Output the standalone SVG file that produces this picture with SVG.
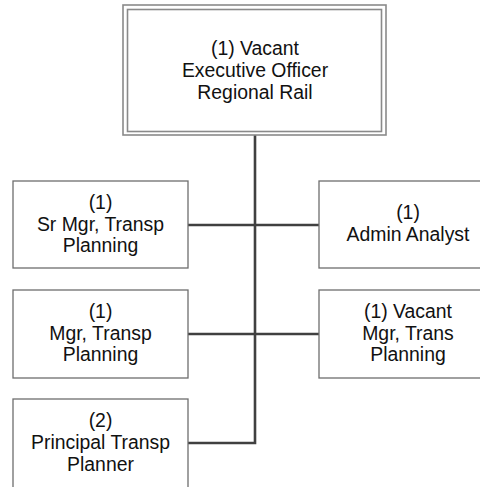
<svg xmlns="http://www.w3.org/2000/svg" width="480" height="487" viewBox="0 0 480 487">
<style>
.box{fill:#fff;stroke:#6e6e6e;stroke-width:1.3}
.dbl{fill:none;stroke:#8a8a8a;stroke-width:1.6}
.t{font-family:"Liberation Sans",Arial,sans-serif;font-size:19.4px;fill:#111;text-anchor:middle}
.c{fill:none;stroke:#404040;stroke-width:2.6}
</style>
<rect width="480" height="487" fill="#fff"/>
<g id="connectors">
<path class="c" d="M255 135V443H188"/>
<path class="c" d="M188 225H319"/>
<path class="c" d="M188 334H319"/>
</g>
<g id="n0">
<rect class="dbl" x="123" y="5" width="263" height="130"/>
<rect class="dbl" x="127.5" y="9.5" width="254" height="122"/>
<text class="t" x="255" y="55">(1) Vacant</text>
<text class="t" x="255" y="77">Executive Officer</text>
<text class="t" x="255" y="99">Regional Rail</text>
</g>
<g id="n1">
<rect class="box" x="13" y="181" width="175" height="87"/>
<text class="t" x="100.5" y="209">(1)</text>
<text class="t" x="100.5" y="231">Sr Mgr, Transp</text>
<text class="t" x="100.5" y="252">Planning</text>
</g>
<g id="n2">
<rect class="box" x="319" y="181" width="178" height="87"/>
<text class="t" x="408" y="219">(1)</text>
<text class="t" x="408" y="241">Admin Analyst</text>
</g>
<g id="n3">
<rect class="box" x="13" y="290" width="175" height="88"/>
<text class="t" x="100.5" y="318">(1)</text>
<text class="t" x="100.5" y="340">Mgr, Transp</text>
<text class="t" x="100.5" y="361">Planning</text>
</g>
<g id="n4">
<rect class="box" x="319" y="290" width="178" height="88"/>
<text class="t" x="408" y="318">(1) Vacant</text>
<text class="t" x="408" y="340">Mgr, Trans</text>
<text class="t" x="408" y="361">Planning</text>
</g>
<g id="n5">
<rect class="box" x="13" y="399" width="175" height="100"/>
<text class="t" x="100.5" y="427">(2)</text>
<text class="t" x="100.5" y="449">Principal Transp</text>
<text class="t" x="100.5" y="471">Planner</text>
</g>
</svg>
